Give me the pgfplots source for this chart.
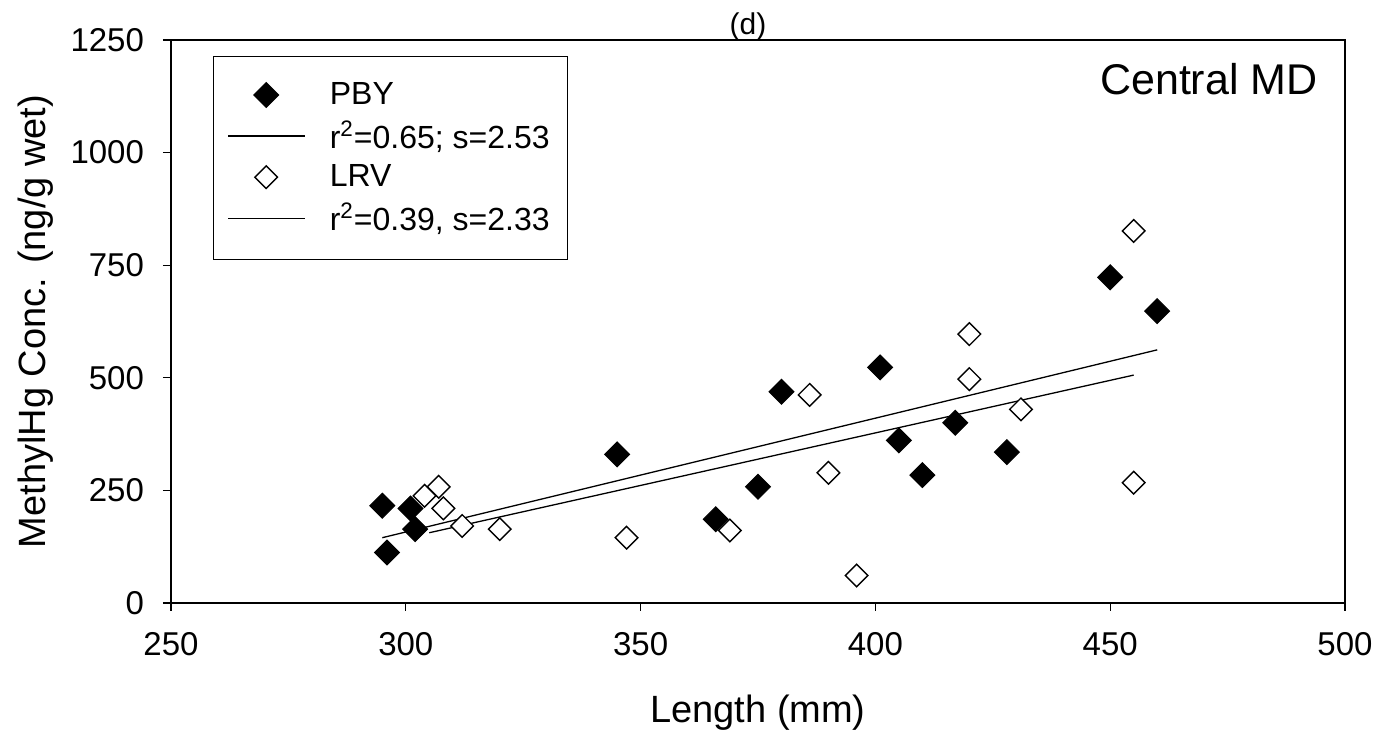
\documentclass[border=0pt]{standalone}
\usepackage{fontspec}
\setmainfont{Liberation Sans}
\usepackage{pgfplots}
\pgfplotsset{compat=1.18}

\begin{document}
\begin{tikzpicture}
\useasboundingbox (-85.5pt,-64.5pt) rectangle (610.5pt,301.5pt);
\begin{axis}[
    at={(0,0)}, anchor=south west,
    scale only axis,
    width=587pt, height=281.5pt,
    xmin=250, xmax=500, ymin=0, ymax=1250,
    clip=false,
    xtick={250,300,...,500},
    ytick={0,250,...,1250},
    tick align=outside,
    xtick pos=left, ytick pos=left,
    major tick length=4pt,
    axis line style={line width=0.65pt},
    every tick/.style={black, line width=0.65pt},
    tick label style={font=\fontsize{16.5}{18}\selectfont},
    xticklabel style={yshift=-7pt},
    yticklabel style={xshift=-6pt},
    /pgf/number format/assume math mode=true,
    /pgf/number format/1000 sep={},
    label style={font=\fontsize{19}{22}\selectfont},
    xlabel={Length (mm)},
    ylabel={MethylHg Conc. (ng/g wet)},
    xlabel style={at={(axis description cs:0.5,-0.2114)}, anchor=base},
    ylabel style={at={(axis description cs:-0.1065,0.5)}, anchor=base},
    legend style={at={(axis description cs:0.0358,0.9716)}, anchor=north west,
        draw=black, line width=0.5pt, font=\fontsize{16}{19}\selectfont,
        inner xsep=7pt, inner ysep=11pt, row sep=2.5pt,
        /tikz/every odd column/.append style={column sep=10pt}},
    legend cell align=left,
    legend image code/.code={\draw[mark repeat=2,mark phase=2,#1]
        plot coordinates {(0pt,0pt) (19pt,0pt) (38.5pt,0pt)};},
]

% PBY
\addplot[only marks, mark=square*, mark size=4.4pt,
    mark options={rotate=45, fill=black, draw=black, line width=0.5pt}]
coordinates {
    (295,216) (301,210) (302,164) (296,112) (345,330)
    (366,186) (375,258) (380,469) (401,523) (405,361)
    (410,284) (417,400) (428,335) (450,723) (460,648)
};
\addlegendentry{PBY}

\addplot[black, line width=0.65pt, mark=none]
coordinates {(295,145) (460,562)};
\addlegendentry{r\textsuperscript{2}=0.65; s=2.53}

% LRV
\addplot[only marks, mark=square*, mark size=4pt,
    mark options={rotate=45, fill=white, draw=black, line width=0.7pt}]
coordinates {
    (304,238) (307,258) (308,210) (312,171) (320,164)
    (347,145) (369,161) (386,462) (390,289) (396,61)
    (420,597) (420,497) (431,430) (455,826) (455,267)
};
\addlegendentry{LRV}

\addplot[black, line width=0.65pt, mark=none]
coordinates {(305,156) (455,506)};
\addlegendentry{r\textsuperscript{2}=0.39, s=2.33}

\node[anchor=base, inner sep=0pt, yshift=2.5pt, font=\fontsize{15}{18}\selectfont]
    at (axis description cs:0.4915,1) {(d)};
\node[anchor=base east, inner sep=0pt, font=\fontsize{21.5}{25}\selectfont]
    at (axis description cs:0.977,0.9023) {Central MD};

\end{axis}
\end{tikzpicture}
\end{document}
